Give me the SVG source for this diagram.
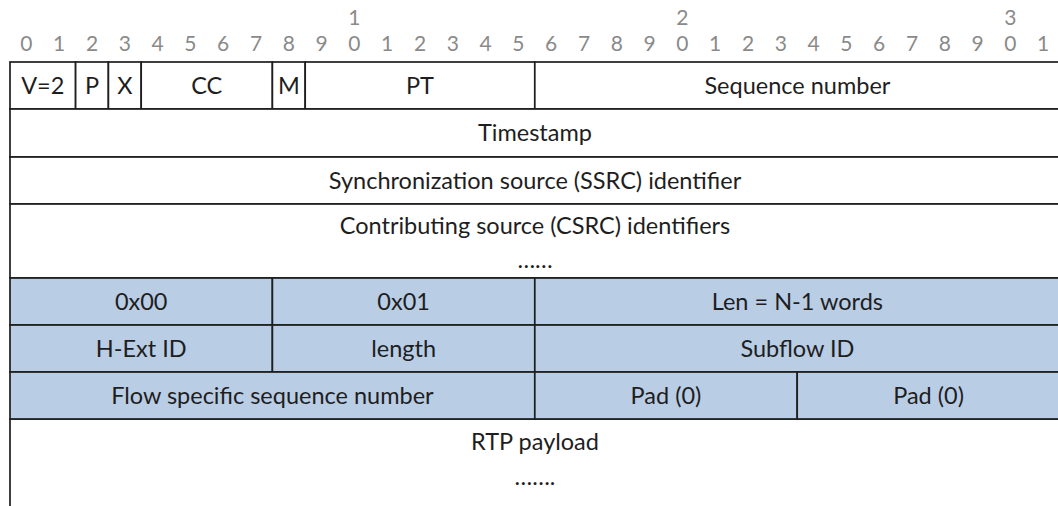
<svg xmlns="http://www.w3.org/2000/svg" width="1058" height="506" viewBox="0 0 1058 506">
<style>
.c{fill:#ffffff;stroke:#1e1e1e;stroke-width:1.7}
.b{fill:#b9cde5;stroke:#1e1e1e;stroke-width:1.7}
.t{font-family:Lato,"Open Sans",sans-serif;font-size:23.5px;fill:#1e1e1e;text-anchor:middle}
.h{font-family:Lato,"Open Sans",sans-serif;font-size:21px;fill:#8a8a8a;text-anchor:middle}
</style>
<rect width="1058" height="506" fill="#ffffff"/>
<g id="bit-ruler">
<text class="h" x="354.4" y="24.5">1</text>
<text class="h" x="682.4" y="24.5">2</text>
<text class="h" x="1010.4" y="24.5">3</text>
<text class="h" x="26.4" y="51">0</text>
<text class="h" x="59.2" y="51">1</text>
<text class="h" x="92" y="51">2</text>
<text class="h" x="124.8" y="51">3</text>
<text class="h" x="157.6" y="51">4</text>
<text class="h" x="190.4" y="51">5</text>
<text class="h" x="223.2" y="51">6</text>
<text class="h" x="256" y="51">7</text>
<text class="h" x="288.8" y="51">8</text>
<text class="h" x="321.6" y="51">9</text>
<text class="h" x="354.4" y="51">0</text>
<text class="h" x="387.2" y="51">1</text>
<text class="h" x="420" y="51">2</text>
<text class="h" x="452.8" y="51">3</text>
<text class="h" x="485.6" y="51">4</text>
<text class="h" x="518.4" y="51">5</text>
<text class="h" x="551.2" y="51">6</text>
<text class="h" x="584" y="51">7</text>
<text class="h" x="616.8" y="51">8</text>
<text class="h" x="649.6" y="51">9</text>
<text class="h" x="682.4" y="51">0</text>
<text class="h" x="715.2" y="51">1</text>
<text class="h" x="748" y="51">2</text>
<text class="h" x="780.8" y="51">3</text>
<text class="h" x="813.6" y="51">4</text>
<text class="h" x="846.4" y="51">5</text>
<text class="h" x="879.2" y="51">6</text>
<text class="h" x="912" y="51">7</text>
<text class="h" x="944.8" y="51">8</text>
<text class="h" x="977.6" y="51">9</text>
<text class="h" x="1010.4" y="51">0</text>
<text class="h" x="1043.2" y="51">1</text>
</g>
<g id="rtp-payload"><rect class="c" x="10" y="419" width="1070" height="110"/><text class="t" x="535" y="450">RTP payload</text><text class="t" x="535" y="485">…….</text></g>
<g id="v"><rect class="c" x="10" y="62" width="65.6" height="47"/><text class="t" x="42.8" y="94">V=2</text></g>
<g id="p"><rect class="c" x="75.6" y="62" width="32.8" height="47"/><text class="t" x="92" y="94">P</text></g>
<g id="x"><rect class="c" x="108.4" y="62" width="32.8" height="47"/><text class="t" x="124.8" y="94">X</text></g>
<g id="cc"><rect class="c" x="141.2" y="62" width="131.2" height="47"/><text class="t" x="206.8" y="94">CC</text></g>
<g id="m"><rect class="c" x="272.4" y="62" width="32.8" height="47"/><text class="t" x="288.8" y="94">M</text></g>
<g id="pt"><rect class="c" x="305.2" y="62" width="229.6" height="47"/><text class="t" x="420" y="94">PT</text></g>
<g id="seq"><rect class="c" x="534.8" y="62" width="545" height="47"/><text class="t" x="797.4" y="94">Sequence number</text></g>
<g id="timestamp"><rect class="c" x="10" y="109" width="1070" height="48"/><text class="t" x="535" y="140.5">Timestamp</text></g>
<g id="ssrc"><rect class="c" x="10" y="157" width="1070" height="47"/><text class="t" x="535" y="189">Synchronization source (SSRC) identifier</text></g>
<g id="csrc"><rect class="c" x="10" y="204" width="1070" height="74"/><text class="t" x="535" y="234">Contributing source (CSRC) identifiers</text><text class="t" x="535" y="268">……</text></g>
<g id="ext-0x00"><rect class="b" x="10" y="278" width="262.4" height="47"/><text class="t" x="141.2" y="309.5">0x00</text></g>
<g id="ext-0x01"><rect class="b" x="272.4" y="278" width="262.4" height="47"/><text class="t" x="403.6" y="309.5">0x01</text></g>
<g id="ext-len"><rect class="b" x="534.8" y="278" width="545" height="47"/><text class="t" x="797.4" y="309.5">Len = N-1 words</text></g>
<g id="hext-id"><rect class="b" x="10" y="325" width="262.4" height="47"/><text class="t" x="141.2" y="356.5">H-Ext ID</text></g>
<g id="hext-length"><rect class="b" x="272.4" y="325" width="262.4" height="47"/><text class="t" x="403.6" y="356.5">length</text></g>
<g id="subflow-id"><rect class="b" x="534.8" y="325" width="545" height="47"/><text class="t" x="797.4" y="356.5">Subflow ID</text></g>
<g id="flow-seq"><rect class="b" x="10" y="372" width="524.8" height="47"/><text class="t" x="272.4" y="403.5">Flow specific sequence number</text></g>
<g id="pad1"><rect class="b" x="534.8" y="372" width="262.4" height="47"/><text class="t" x="666" y="403.5">Pad (0)</text></g>
<g id="pad2"><rect class="b" x="797.2" y="372" width="283" height="47"/><text class="t" x="928.6" y="403.5">Pad (0)</text></g>
<g id="connectors"></g>
</svg>
